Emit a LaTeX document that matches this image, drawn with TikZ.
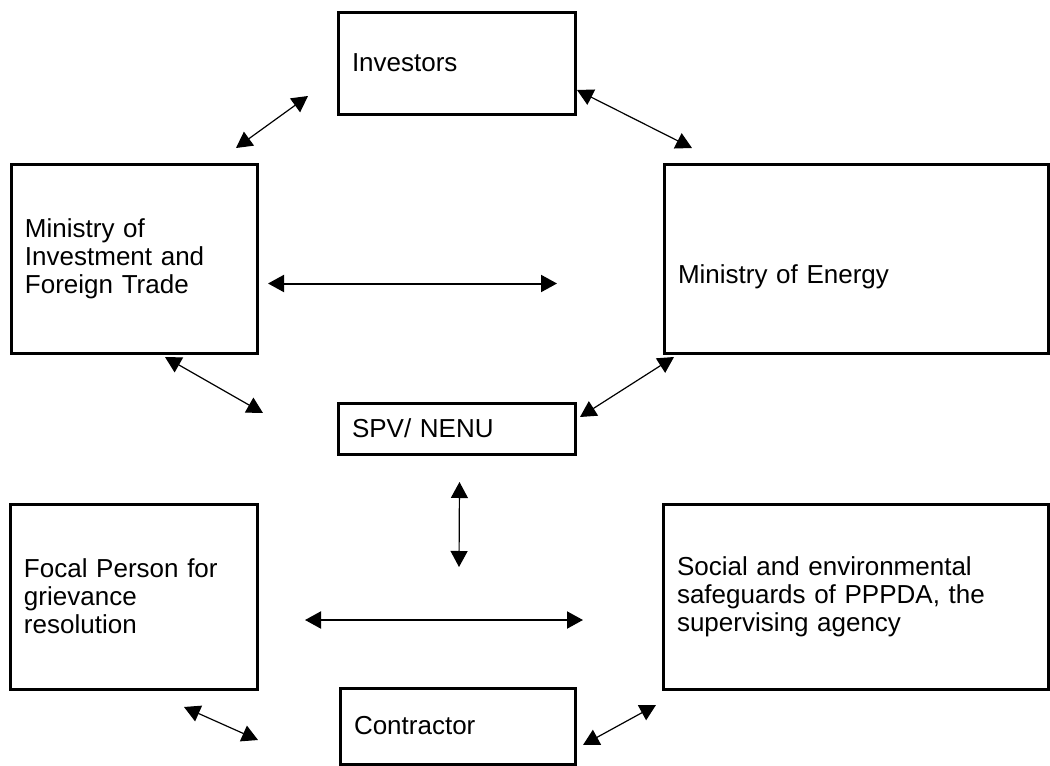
\documentclass[tikz,border=0pt]{standalone}
\usepackage{fontspec}
\setmainfont{Liberation Sans}
\usepackage{tikz}
\usetikzlibrary{arrows.meta, positioning, calc}
\tikzstyle{link} = [line width=0.6pt, {Triangle[length=8pt,width=8.5pt]}-{Triangle[length=8pt,width=8.5pt]}]

\begin{document}
\begin{tikzpicture}[x=0.5pt, y=-0.5pt, font=\fontsize{13}{14}\selectfont]
      % Define node style
      \tikzstyle{block} = [rectangle, draw, line width=1.5pt, align=left, inner xsep=7pt, inner ysep=0pt, outer sep=0pt]
      \useasboundingbox (0,0) rectangle (1050,766);

      % Boxes at fixed positions
      \node [block, minimum width=118.5pt, minimum height=51pt, text width=104.5pt] (inv) at (456.5,63) {Investors};
      \node [block, minimum width=123pt, minimum height=94.5pt, text width=109pt] (mift) at (134,258.5) {Ministry of\\Investment and\\Foreign Trade};
      \node [block, minimum width=192pt, minimum height=94.5pt, text width=178pt] (energy) at (856,258.5) {\mbox{}\\\mbox{}\\Ministry of Energy};
      \node [block, minimum width=118.5pt, minimum height=25.5pt, text width=104.5pt] (spv) at (456.5,428.5) {SPV/ NENU};
      \node [block, minimum width=123.5pt, minimum height=92.5pt, text width=109.5pt] (focal) at (133.5,596.5) {Focal Person for\\grievance\\resolution};
      \node [block, minimum width=192.5pt, minimum height=92.5pt, text width=178.5pt] (social) at (855.5,596.5) {Social and environmental\\safeguards of PPPDA, the\\supervising agency};
      \node [block, minimum width=117.5pt, minimum height=38pt, text width=103.5pt] (contr) at (457.5,726) {Contractor};

      % Two-way arrows between the boxes
      \draw [link] ([shift={(-21,-16)}]mift.north east) -- ([shift={(-30,-18)}]inv.south west);
      \draw [link] ([shift={(2,-24)}]inv.south east) -- ([shift={(28,-16)}]energy.north west);
      \draw [link, line width=1pt] ([shift={(11,25)}]mift.east) -- ([shift={(-107,25)}]energy.west);
      \draw [link] ([shift={(-92,4)}]mift.south east) -- ([shift={(-75,-15.5)}]spv.west);
      \draw [link] ([shift={(10,4)}]energy.south west) -- ([shift={(5,-11.5)}]spv.east);
      \draw [link] ([shift={(3,28)}]spv.south) -- ([shift={(1.5,-121)}]contr.north);
      \draw [link, line width=1pt] ([shift={(48,23.5)}]focal.east) -- ([shift={(-80,23.5)}]social.west);
      \draw [link] ([shift={(-73,18)}]focal.south east) -- ([shift={(-82,14)}]contr.west);
      \draw [link] ([shift={(-7,16)}]social.south west) -- ([shift={(8,19)}]contr.east);
    \end{tikzpicture}
\end{document}
